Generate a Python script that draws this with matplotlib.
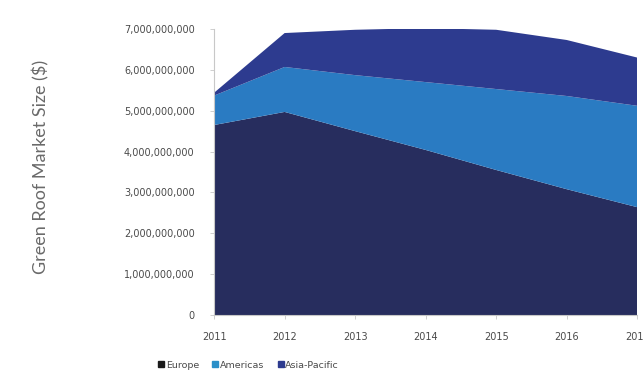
import numpy as np
import matplotlib.pyplot as plt
from matplotlib.lines import Line2D
from matplotlib.ticker import FuncFormatter

# market size by region, stacked (USD)
years = [2011, 2012, 2013, 2014, 2015, 2016, 2017]
europe = [4.65e9, 4.97e9, 4.50e9, 4.04e9, 3.55e9, 3.08e9, 2.64e9]
americas = [0.72e9, 1.10e9, 1.37e9, 1.66e9, 1.98e9, 2.28e9, 2.48e9]
asia_pacific = [0.07e9, 0.83e9, 1.11e9, 1.32e9, 1.45e9, 1.37e9, 1.18e9]
series_names = ["Europe", "Americas", "Asia-Pacific"]
colors = ["#272d5e", "#2a7bc2", "#2d3b8f"]
legend_colors = ["#1a1a1a", "#2a8fc8", "#2d3b8f"]

fig = plt.figure(figsize=(6.43, 3.76), dpi=100)
ax = fig.add_axes([0.333, 0.162, 0.658, 0.761])

ax.stackplot(years, europe, americas, asia_pacific, colors=colors, linewidth=0)

ax.set_xlim(2011, 2017)
ax.set_ylim(0, 7e9)
ax.set_xticks(years)
ax.set_yticks(np.arange(0, 7.01e9, 1e9))
ax.yaxis.set_major_formatter(FuncFormatter(lambda v, p: f"{v:,.0f}"))

for side in ["top", "right"]:
    ax.spines[side].set_visible(False)
for side in ["left", "bottom"]:
    ax.spines[side].set_color("#c8c8c8")
    ax.spines[side].set_linewidth(0.8)

ax.tick_params(axis="both", labelsize=7, labelcolor="#4a4a4a", color="#c8c8c8", length=3, width=0.6)
ax.tick_params(axis="x", pad=9)
ax.tick_params(axis="y", pad=11)

fig.text(0.063, 0.555, "Green Roof Market Size ($)", rotation=90, ha="center", va="center",
         fontsize=13, color="#6a6a6a", family="Lato", fontweight="normal")

handles = [Line2D([], [], marker="s", linestyle="none", markersize=4.5, color=c) for c in legend_colors]
fig.legend(handles, series_names, loc="center left", bbox_to_anchor=(0.232, 0.029), ncol=3,
           frameon=False, fontsize=6.8, labelcolor="#4a4a4a", handletextpad=0.1, columnspacing=1.3,
           handlelength=0.8)

fig.savefig("out.png", dpi=100)
